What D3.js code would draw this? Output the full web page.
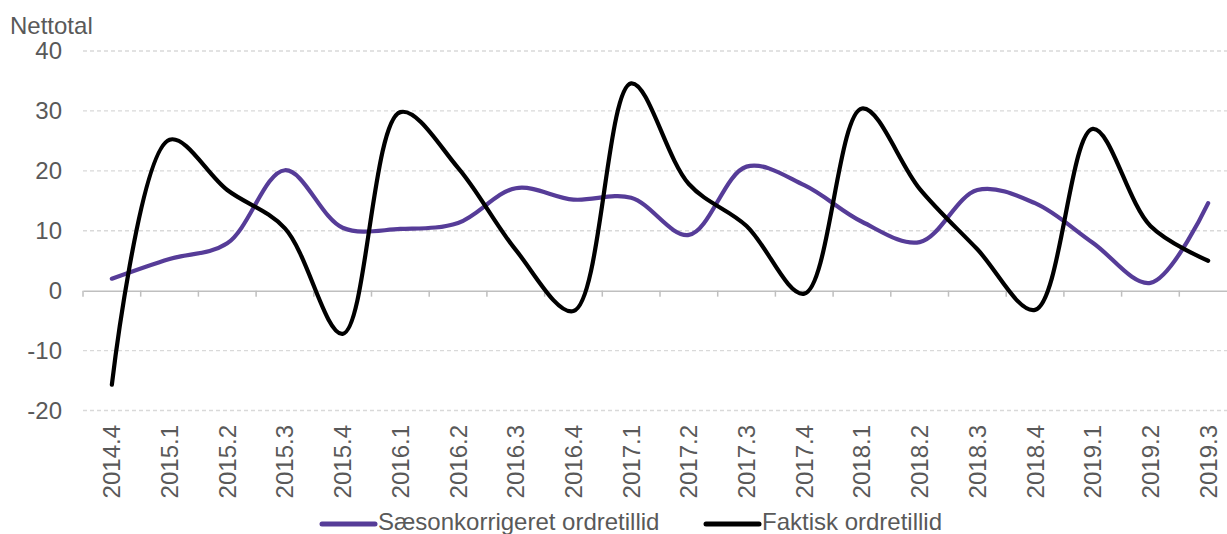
<!DOCTYPE html>
<html>
<head>
<meta charset="utf-8">
<script src="https://cdn.jsdelivr.net/npm/d3@7"></script>
<style>
  html, body { margin: 0; padding: 0; background: #fff; overflow: hidden; }
  svg { display: block; font-family: "Liberation Sans", Arial, sans-serif; }
</style>
</head>
<body>
<svg id="chart" width="1227" height="534"></svg>
<script>
const categories = ["2014.4","2015.1","2015.2","2015.3","2015.4","2016.1","2016.2","2016.3","2016.4","2017.1","2017.2","2017.3","2017.4","2018.1","2018.2","2018.3","2018.4","2019.1","2019.2","2019.3"];
const seasonal = [2.0, 5.3, 7.9, 20.1, 10.5, 10.3, 11.3, 17.1, 15.2, 15.5, 9.3, 20.7, 17.6, 11.5, 8.1, 16.8, 14.6, 8.0, 1.3, 14.6];
const actual = [-15.7, 25.2, 16.8, 10.4, -7.2, 29.8, 20.5, 6.8, -3.4, 34.6, 17.8, 10.8, -0.5, 30.4, 17.0, 6.9, -3.2, 27.0, 10.8, 5.0];
const yTicks = [-20, -10, 0, 10, 20, 30, 40];
const seriesNames = ["Sæsonkorrigeret ordretillid", "Faktisk ordretillid"];
const seriesColors = ["#563c98", "#000000"];

(function () {
const svg = d3.select("#chart");
const pLeft = 83, pRight = 1237, pTop = 51, pBottom = 410.5;
const textColor = "#595959";
const fontSize = 24;

const x = d3.scaleBand().domain(categories).range([pLeft, pRight]).paddingInner(0).paddingOuter(0);
const y = d3.scaleLinear().domain([-20, 40]).range([pBottom, pTop]);
const cx = d => x(d) + x.bandwidth() / 2;

// gridlines
svg.append("g").selectAll("line").data(yTicks.filter(t => t !== 0)).join("line")
  .attr("x1", pLeft).attr("x2", 1227)
  .attr("y1", d => y(d)).attr("y2", d => y(d))
  .attr("stroke", "#d9d9d9").attr("stroke-width", 1.3).attr("stroke-dasharray", "4,3");

// y axis labels
const yAxis = d3.axisLeft(y).tickValues(yTicks).tickSize(0).tickPadding(0).tickFormat(d => String(d));
const gy = svg.append("g").attr("transform", `translate(${62},0)`).call(yAxis);
gy.select(".domain").remove();
gy.selectAll("text").attr("fill", textColor).attr("font-size", fontSize)
  .attr("font-family", "'Liberation Sans', Arial, sans-serif");

// x axis at 0
const xAxis = d3.axisBottom(x).tickSize(0).tickFormat("");
const gx = svg.append("g").attr("transform", `translate(0,${y(0)})`).call(xAxis);
gx.select(".domain").attr("stroke", "#bfbfbf").attr("stroke-width", 1.5);
gx.selectAll(".tick").remove();
const bounds = categories.map(c => x(c)).concat([x(categories[categories.length-1]) + x.bandwidth()]);
svg.append("g").selectAll("line").data(bounds).join("line")
  .attr("x1", d => d).attr("x2", d => d)
  .attr("y1", y(0)).attr("y2", y(0) + 6)
  .attr("stroke", "#bfbfbf").attr("stroke-width", 1.5);

// x labels rotated
svg.append("g").selectAll("text").data(categories).join("text")
  .attr("transform", d => `translate(${cx(d) + 8.5},${425}) rotate(-90)`)
  .attr("text-anchor", "end")
  .attr("fill", textColor).attr("font-size", fontSize)
  .text(d => d);

// lines
const line = d3.line().x((d, i) => cx(categories[i])).y(d => y(d)).curve(d3.curveCatmullRom.alpha(0.5));
[seasonal, actual].forEach((s, i) => {
  svg.append("path").datum(s).attr("d", line)
    .attr("fill", "none").attr("stroke", seriesColors[i]).attr("stroke-width", 4.2)
    .attr("stroke-linecap", "round").attr("stroke-linejoin", "round");
});

// y title
svg.append("text").attr("x", 10).attr("y", 34).attr("fill", textColor).attr("font-size", fontSize).text("Nettotal");

// legend
const legendItems = [{x1: 322, x2: 375, tx: 378}, {x1: 706, x2: 759, tx: 762}];
legendItems.forEach((l, i) => {
  svg.append("line").attr("x1", l.x1).attr("x2", l.x2).attr("y1", 524).attr("y2", 524)
    .attr("stroke", seriesColors[i]).attr("stroke-width", 5).attr("stroke-linecap", "round");
  svg.append("text").attr("x", l.tx).attr("y", 530).attr("fill", textColor).attr("font-size", fontSize).text(seriesNames[i]);
});
})();
</script>
</body>
</html>
